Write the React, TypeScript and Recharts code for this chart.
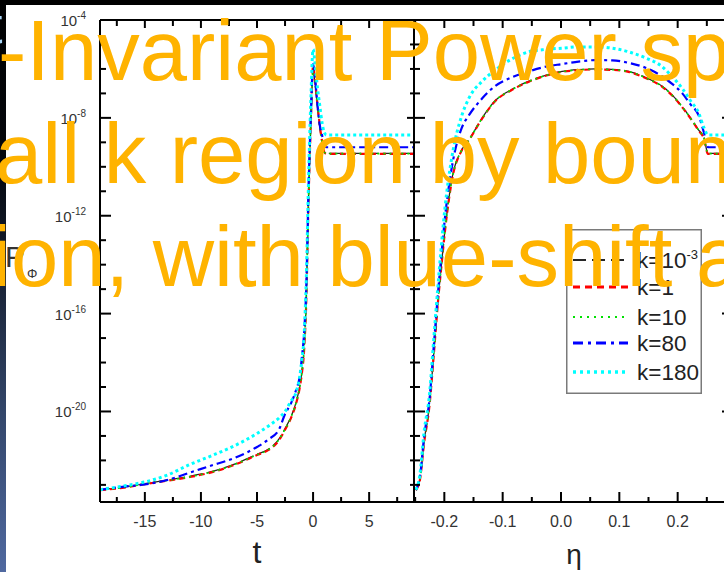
import React from 'react';
import { LineChart, Line, XAxis, YAxis, Legend } from 'recharts';

// ---------- data (log10 of P_Phi) ----------
const tValues = [-19, -17, -15, -13, -11, -9, -7, -5, -4, -3, -2.5, -2, -1.5, -1.2, -1, -0.8, -0.6, -0.4, -0.2, 0, 0.2, 0.4, 0.6, 0.8, 1, 1.2, 2, 4, 6, 9];
const leftK0001 = [-23.2, -23.1, -22.95, -22.8, -22.65, -22.45, -22.15, -21.75, -21.55, -21.1, -20.7, -20.25, -19.6, -19.0, -18.4, -17.4, -15.3, -11.2, -8.3, -6.1, -6.7, -7.6, -8.4, -9.0, -9.4, -9.45, -9.45, -9.45, -9.45, -9.45];
const leftK1 = [-23.22, -23.12, -22.97, -22.83, -22.68, -22.48, -22.18, -21.78, -21.58, -21.15, -20.75, -20.3, -19.65, -19.05, -18.45, -17.5, -15.4, -11.3, -8.2, -5.9, -6.6, -7.5, -8.3, -8.95, -9.4, -9.47, -9.47, -9.47, -9.47, -9.47];
const leftK10 = [-23.21, -23.11, -22.96, -22.82, -22.67, -22.47, -22.17, -21.77, -21.57, -21.12, -20.72, -20.27, -19.62, -19.02, -18.42, -17.45, -15.35, -11.25, -8.25, -6.0, -6.65, -7.55, -8.35, -8.98, -9.4, -9.46, -9.46, -9.46, -9.46, -9.46];
const leftK80 = [-23.2, -23.08, -22.98, -22.8, -22.5, -22.2, -21.9, -21.45, -21.15, -20.7, -20.1, -19.7, -19.1, -18.6, -17.8, -16.8, -14.8, -10.8, -7.9, -5.8, -6.5, -7.5, -8.3, -8.7, -9.1, -9.2, -9.2, -9.2, -9.2, -9.2];
const leftK180 = [-23.2, -23.05, -22.88, -22.6, -22.17, -21.8, -21.4, -20.9, -20.6, -20.25, -20.0, -19.6, -19.2, -18.6, -17.9, -16.9, -14.5, -10.5, -7.3, -5.2, -5.9, -6.8, -7.5, -8.2, -8.6, -8.7, -8.7, -8.7, -8.7, -8.7];

const etaValues = [-0.249, -0.242, -0.235, -0.225, -0.218, -0.211, -0.205, -0.199, -0.187, -0.17, -0.158, -0.135, -0.113, -0.085, -0.055, -0.025, 0.002, 0.03, 0.059, 0.088, 0.116, 0.145, 0.173, 0.19, 0.208, 0.222, 0.236, 0.245, 0.252, 0.27, 0.3];
const rightK0001 = [-23.2, -22.8, -21.3, -19.6, -17.6, -15.5, -14.0, -12.6, -10.5, -9.3, -8.9, -8.0, -7.3, -6.85, -6.5, -6.25, -6.1, -6.03, -6.0, -6.02, -6.1, -6.35, -6.7, -7.05, -7.55, -8.0, -8.5, -8.8, -9.45, -9.45, -9.45];
const rightK1 = [-23.22, -22.82, -21.35, -19.65, -17.65, -15.55, -14.05, -12.65, -10.55, -9.32, -8.92, -8.02, -7.32, -6.87, -6.52, -6.27, -6.12, -6.05, -6.02, -6.04, -6.12, -6.37, -6.72, -7.07, -7.57, -8.02, -8.52, -8.85, -9.47, -9.47, -9.47];
const rightK10 = [-23.21, -22.81, -21.32, -19.62, -17.62, -15.52, -14.02, -12.62, -10.52, -9.31, -8.91, -8.01, -7.31, -6.86, -6.51, -6.26, -6.11, -6.04, -6.01, -6.03, -6.11, -6.36, -6.71, -7.06, -7.56, -8.01, -8.51, -8.82, -9.46, -9.46, -9.46];
const rightK80 = [-23.2, -22.7, -21.1, -19.4, -17.3, -15.2, -13.6, -12.1, -10.0, -8.4, -7.9, -7.2, -6.7, -6.35, -6.1, -5.9, -5.8, -5.7, -5.64, -5.65, -5.75, -5.95, -6.3, -6.6, -7.0, -7.45, -7.9, -8.6, -9.2, -9.2, -9.2];
const rightK180 = [-23.2, -22.6, -20.9, -19.2, -17.0, -14.9, -13.2, -11.7, -9.6, -7.9, -7.2, -6.5, -6.05, -5.6, -5.3, -5.2, -5.15, -5.1, -5.1, -5.15, -5.3, -5.55, -5.9, -6.3, -6.8, -7.3, -7.8, -8.4, -8.7, -8.7, -8.7];

const seriesKeys = ['k0001', 'k1', 'k10', 'k80', 'k180'];
const seriesLabels = ['k=10', 'k=1', 'k=10', 'k=80', 'k=180'];
const seriesSup = ['-3', '', '', '', ''];
const seriesColors = ['#262626', '#ff0000', '#00e000', '#0000ff', '#00ffff'];
const seriesDash = ['14 4', '6 4', '2 4', '9 4 3 4', '3 3'];
const legendDash = ['13 6', '7 5', '2 5', '10 5 3 5', '3 4'];
const seriesWidth = [1.3, 2.2, 1.6, 2.2, 3];

const xTicksLeft = [-17.5, -15, -12.5, -10, -7.5, -5, -2.5, 0, 2.5, 5, 7.5];
const xMajorLeft = [-15, -10, -5, 0, 5];
const xTicksRight = [-0.25, -0.2, -0.15, -0.1, -0.05, 0, 0.05, 0.1, 0.15, 0.2, 0.25];
const xMajorRight = [-0.2, -0.1, 0, 0.1, 0.2];
const yTicks = [-23, -22, -21, -20, -19, -18, -17, -16, -15, -14, -13, -12, -11, -10, -9, -8, -7, -6, -5, -4];
const yMajor = [-4, -8, -12, -16, -20];

const leftData = tValues.map((t, i) => ({ x: t, k0001: leftK0001[i], k1: leftK1[i], k10: leftK10[i], k80: leftK80[i], k180: leftK180[i] }));
const rightData = etaValues.map((e, i) => ({ x: e, k0001: rightK0001[i], k1: rightK1[i], k10: rightK10[i], k80: rightK80[i], k180: rightK180[i] }));

const FONT = 'Liberation Sans, Arial, sans-serif';
const Y_DOMAIN: [number, number] = [-23.7, -4];

const near = (arr: number[], v: number) => arr.some((a) => Math.abs(a - v) < 1e-9);

const BottomTick = (majors: number[], fmt: (v: number) => string) => (props: any) => {
  const { x, y, payload } = props;
  const v = payload.value;
  const major = near(majors, v);
  return (
    <g>
      <line x1={x} x2={x} y1={y} y2={y - (major ? 10 : 5)} stroke="#000" strokeWidth={2} />
      {major && (
        <text x={x} y={y + 25} textAnchor="middle" fontSize={16} fill="#333" fontFamily={FONT}>
          {fmt(v)}
        </text>
      )}
    </g>
  );
};

const TopTick = (majors: number[]) => (props: any) => {
  const { x, y, payload } = props;
  const major = near(majors, payload.value);
  return <line x1={x} x2={x} y1={y} y2={y + (major ? 8 : 6)} stroke="#000" strokeWidth={2} />;
};

const LeftYTick = (withLabel: boolean, majLen: number, minLen: number) => (props: any) => {
  const { x, y, payload } = props;
  const v = payload.value;
  const major = near(yMajor, v);
  return (
    <g>
      <line x1={x} x2={x + (major ? majLen : minLen)} y1={y} y2={y} stroke="#000" strokeWidth={2} />
      {withLabel && major && (
        <text x={x - 14} y={y + 6} textAnchor="end" fontSize={15} fill="#333" fontFamily={FONT}>
          10
          <tspan dy={-7} fontSize={10}>{String(v)}</tspan>
        </text>
      )}
    </g>
  );
};

const RightYTick = (majLen: number, minLen: number) => (props: any) => {
  const { x, y, payload } = props;
  const major = near(yMajor, payload.value);
  return <line x1={x} x2={x - (major ? majLen : minLen)} y1={y} y2={y} stroke="#000" strokeWidth={2} />;
};

const renderLines = () =>
  seriesKeys.map((k, i) => (
    <Line
      key={k}
      type="monotone"
      dataKey={k}
      name={seriesLabels[i]}
      stroke={seriesColors[i]}
      strokeDasharray={seriesDash[i]}
      strokeWidth={seriesWidth[i]}
      dot={false}
      activeDot={false}
      isAnimationActive={false}
      xAxisId="b"
      yAxisId="l"
    />
  ));

const LegendBox = () => (
  <svg width={136} height={165} style={{ display: 'block' }}>
    <rect x={0.75} y={0.75} width={134.5} height={163.5} fill="#fff" stroke="#7a7a7a" strokeWidth={1.5} />
    {seriesKeys.map((k, i) => {
      const cy = [31, 58, 88, 114, 143][i];
      return (
        <g key={k}>
          <line x1={7} x2={62} y1={cy} y2={cy} stroke={seriesColors[i]} strokeWidth={seriesWidth[i] + 0.6} strokeDasharray={legendDash[i]} />
          <text x={71} y={cy + 8} fontSize={22.5} fill="#222" fontFamily={FONT}>
            {seriesLabels[i]}
            {seriesSup[i] && <tspan dy={-9} fontSize={13}>{seriesSup[i]}</tspan>}
          </text>
        </g>
      );
    })}
  </svg>
);

export default function App() {
  return (
    <div style={{ position: 'relative', width: 724, height: 572, overflow: 'hidden', background: '#fff' }}>
      <style>{'body{margin:0;overflow:hidden}'}</style>
      {/* slide background bits */}
      <div style={{ position: 'absolute', left: 0, top: 0, width: 724, height: 5, background: '#000' }} />
      <div style={{ position: 'absolute', left: 0, top: 0, width: 6, height: 572, background: 'linear-gradient(#000 0%, #05080f 30%, #1a2438 50%, #33466a 72%, #5069a0 100%)' }} />
      <svg style={{ position: 'absolute', left: 0, top: 0 }} width={40} height={60}>
        <text x={-12} y={43} fontSize={52} fill="#a9d6f7" fontFamily={FONT}>t</text>
      </svg>

      {/* left panel */}
      <div style={{ position: 'absolute', left: 0, top: 0 }}>
        <LineChart width={420} height={572} data={leftData} margin={{ top: 19, right: 5, bottom: 0, left: 0 }}>
          <XAxis xAxisId="b" dataKey="x" type="number" domain={[-19, 9]} allowDataOverflow ticks={xTicksLeft} interval={0}
            height={70} tickSize={0} tickMargin={0} tickLine={false} axisLine={{ stroke: '#000', strokeWidth: 2 }}
            tick={BottomTick(xMajorLeft, (v) => String(v))} />
          <XAxis xAxisId="t" orientation="top" dataKey="x" type="number" domain={[-19, 9]} allowDataOverflow ticks={xTicksLeft} interval={0}
            height={1} tickSize={0} tickMargin={0} tickLine={false} axisLine={{ stroke: '#000', strokeWidth: 2 }}
            tick={TopTick(xMajorLeft)} />
          <YAxis yAxisId="l" type="number" domain={Y_DOMAIN} allowDataOverflow ticks={yTicks} interval={0} width={100}
            tickSize={0} tickMargin={0} tickLine={false} axisLine={{ stroke: '#000', strokeWidth: 2 }}
            tick={LeftYTick(true, 11, 6)} />
          <YAxis yAxisId="r" orientation="right" type="number" domain={Y_DOMAIN} allowDataOverflow ticks={yTicks} interval={0} width={1}
            tickSize={0} tickMargin={0} tickLine={false} axisLine={{ stroke: '#000', strokeWidth: 2 }}
            tick={RightYTick(7, 4)} />
          {renderLines()}
        </LineChart>
      </div>

      {/* right panel */}
      <div style={{ position: 'absolute', left: 400, top: 0 }}>
        <LineChart width={340} height={572} data={rightData} margin={{ top: 19, right: 3, bottom: 0, left: 0 }}>
          <XAxis xAxisId="b" dataKey="x" type="number" domain={[-0.252, 0.3]} allowDataOverflow ticks={xTicksRight} interval={0}
            height={70} tickSize={0} tickMargin={0} tickLine={false} axisLine={{ stroke: '#000', strokeWidth: 2 }}
            tick={BottomTick(xMajorRight, (v) => v.toFixed(1))} />
          <XAxis xAxisId="t" orientation="top" dataKey="x" type="number" domain={[-0.252, 0.3]} allowDataOverflow ticks={xTicksRight} interval={0}
            height={1} tickSize={0} tickMargin={0} tickLine={false} axisLine={{ stroke: '#000', strokeWidth: 2 }}
            tick={TopTick(xMajorRight)} />
          <YAxis yAxisId="l" type="number" domain={Y_DOMAIN} allowDataOverflow ticks={yTicks} interval={0} width={14}
            tickSize={0} tickMargin={0} tickLine={false} axisLine={{ stroke: '#000', strokeWidth: 2 }}
            tick={LeftYTick(false, 11, 6)} />
          <YAxis yAxisId="r" orientation="right" type="number" domain={Y_DOMAIN} allowDataOverflow ticks={yTicks} interval={0} width={1}
            tickSize={0} tickMargin={0} tickLine={false} axisLine={{ stroke: '#000', strokeWidth: 2 }}
            tick={RightYTick(14, 6)} />
          {renderLines()}
          <Legend layout="vertical" align="center" verticalAlign="middle" content={() => <LegendBox />}
            wrapperStyle={{ left: 166, top: 229, width: 136, height: 165 }} />
        </LineChart>
      </div>

      {/* axis titles */}
      <svg style={{ position: 'absolute', left: 0, top: 0, pointerEvents: 'none' }} width={724} height={572}>
        <text x={257} y={563} textAnchor="middle" fontSize={32} fill="#222" fontFamily={FONT}>t</text>
        <text x={574} y={564} textAnchor="middle" fontSize={28} fill="#222" fontFamily={FONT}>η</text>
        <text x={5} y={267} fontSize={30} fill="#333" fontFamily={FONT}>P</text>
        <text x={27} y={278} fontSize={13} fill="#333" fontFamily={FONT}>Φ</text>
      </svg>

      {/* slide title overlay */}
      <svg style={{ position: 'absolute', left: 0, top: 0, pointerEvents: 'none' }} width={724} height={572}>
        <g fontFamily={FONT} fontSize={85} fill="#FFB300">
          <text x={-2} y={80}>-Invariant Power sp</text>
          <text x={-5} y={183}>all k region by boun</text>
          <text x={-8} y={286}>ion, with blue-shift a</text>
        </g>
      </svg>
    </div>
  );
}
